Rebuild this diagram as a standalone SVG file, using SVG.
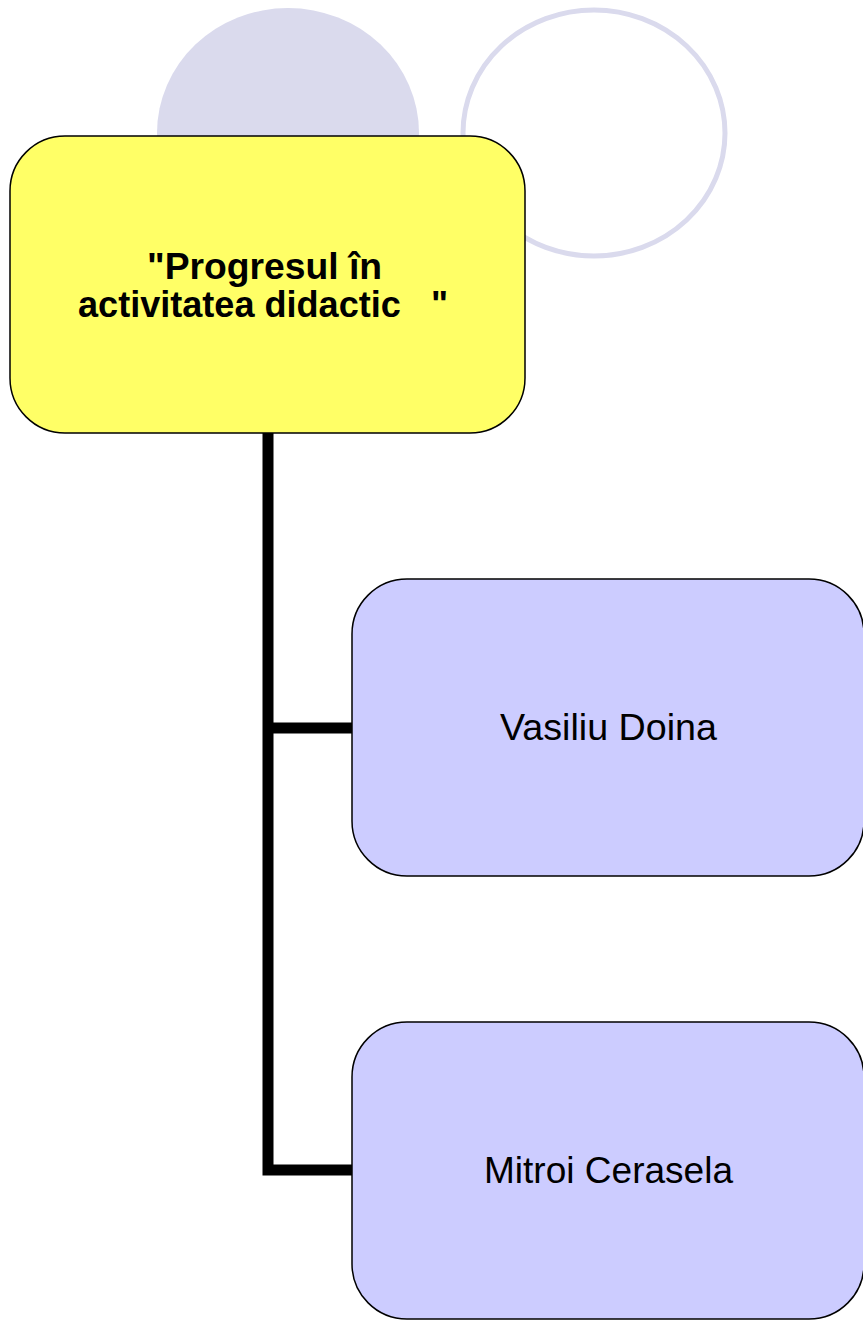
<svg xmlns="http://www.w3.org/2000/svg" width="863" height="1324" viewBox="0 0 863 1324">
<style>
.box{stroke:#000;stroke-width:1.5}
.root{fill:#ffff66}
.child{fill:#ccccff}
.t{font-family:"Liberation Sans",Arial,sans-serif;font-size:37px;fill:#000;text-anchor:middle;white-space:pre}
.b{font-weight:bold;font-size:36px}
.conn{fill:none;stroke:#000;stroke-width:11;stroke-linejoin:miter}
</style>
<rect width="863" height="1324" fill="#fff"/>
<g id="decor">
<ellipse cx="288" cy="133" rx="131" ry="125" fill="#dadaed"/>
<ellipse cx="594" cy="133" rx="131" ry="123" fill="none" stroke="#dadaed" stroke-width="5"/>
</g>
<g id="connectors">
<path class="conn" d="M268 433 V1170 H352"/>
<path class="conn" d="M268 728 H352"/>
</g>
<g id="root">
<rect class="box root" x="10" y="136" width="515" height="297" rx="55" ry="55"/>
<text class="t b" x="264.5" y="279" textLength="235" lengthAdjust="spacingAndGlyphs">"Progresul în</text>
<text class="t b" x="263" y="317" textLength="370" lengthAdjust="spacingAndGlyphs" xml:space="preserve">activitatea didactic   "</text>
</g>
<g id="node1">
<rect class="box child" x="352" y="579" width="512" height="297" rx="55" ry="55"/>
<text class="t" x="608.5" y="740" textLength="217" lengthAdjust="spacingAndGlyphs">Vasiliu Doina</text>
</g>
<g id="node2">
<rect class="box child" x="352" y="1022" width="512" height="297" rx="55" ry="55"/>
<text class="t" x="608.5" y="1183" textLength="249" lengthAdjust="spacingAndGlyphs">Mitroi Cerasela</text>
</g>
</svg>
